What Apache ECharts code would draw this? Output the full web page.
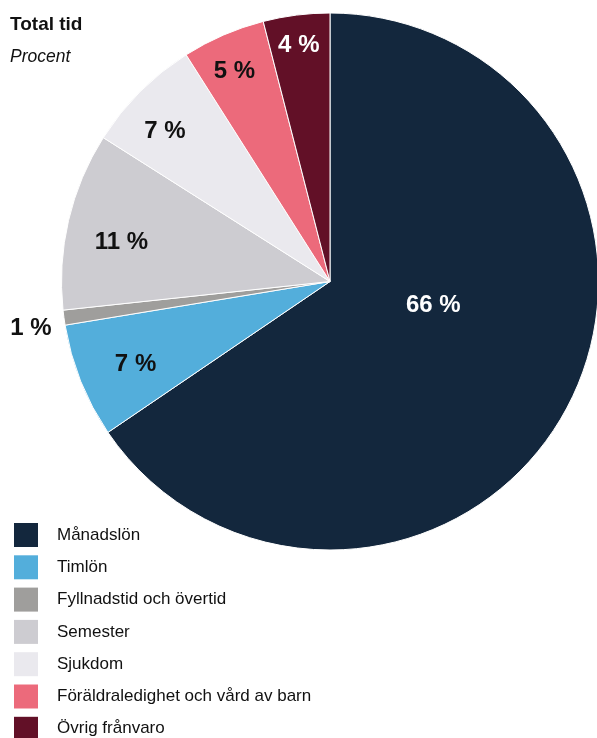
<!DOCTYPE html>
<html>
<head>
<meta charset="utf-8">
<script src="https://cdn.jsdelivr.net/npm/echarts@6/dist/echarts.min.js"></script>
<style>
html,body{margin:0;padding:0;background:#fff;}
#chart{width:597px;height:738px;}
</style>
</head>
<body>
<div id="chart"></div>
<script>
const categories = ["Månadslön","Timlön","Fyllnadstid och övertid","Semester","Sjukdom","Föräldraledighet och vård av barn","Övrig frånvaro"];
const values = [65.5, 6.9, 0.9, 10.7, 7.0, 5.0, 4.0];
const colors = ["#13273d","#53aedb","#9f9e9c","#cdccd1","#eae9ee","#ec6a7b","#621027"];
const labelColors = ["#ffffff","#111111","#111111","#111111","#111111","#111111","#ffffff"];
const labelOffsets = [[-18,-40],[-67,32],[-163,28],[-75,-8],[-68,-53],[-41,-84],[-14,-100]];

const FONT = '"Liberation Sans", Arial, sans-serif';
const chart = echarts.init(document.getElementById('chart'), null, {renderer:'canvas'});
chart.setOption({
  animation: false,
  backgroundColor: '#ffffff',
  title: {
    text: 'Total tid',
    subtext: 'Procent',
    left: 10, top: 15, padding: 0, itemGap: 14,
    textStyle: {fontFamily: FONT, fontSize: 19, fontWeight: 'bold', color: '#111'},
    subtextStyle: {fontFamily: FONT, fontSize: 17.5, fontStyle: 'italic', color: '#111'}
  },
  legend: {
    orient: 'vertical', left: 14, top: 523, padding: 0,
    height: 240,
    itemWidth: 24, itemHeight: 24, itemGap: 8.3,
    icon: 'rect',
    itemStyle: {borderWidth: 0},
    textStyle: {fontFamily: FONT, fontSize: 17, color: '#111', padding: [0,0,0,14]},
    data: categories
  },
  series: [{
    type: 'pie',
    center: [330, 281.5],
    radius: [0, 268.5],
    startAngle: 90,
    clockwise: true,
    avoidLabelOverlap: false,
    silent: true,
    itemStyle: {borderColor: '#ffffff', borderWidth: 1},
    labelLine: {show: false},
    label: {
      show: true, position: 'inside',
      fontFamily: FONT, fontSize: 24, fontWeight: 'bold',
      formatter: p => Math.round(p.value) + ' %'
    },
    data: categories.map((c, i) => ({
      name: c, value: values[i],
      itemStyle: {color: colors[i]},
      label: {color: labelColors[i], offset: labelOffsets[i]}
    }))
  }]
});
</script>
</body>
</html>
